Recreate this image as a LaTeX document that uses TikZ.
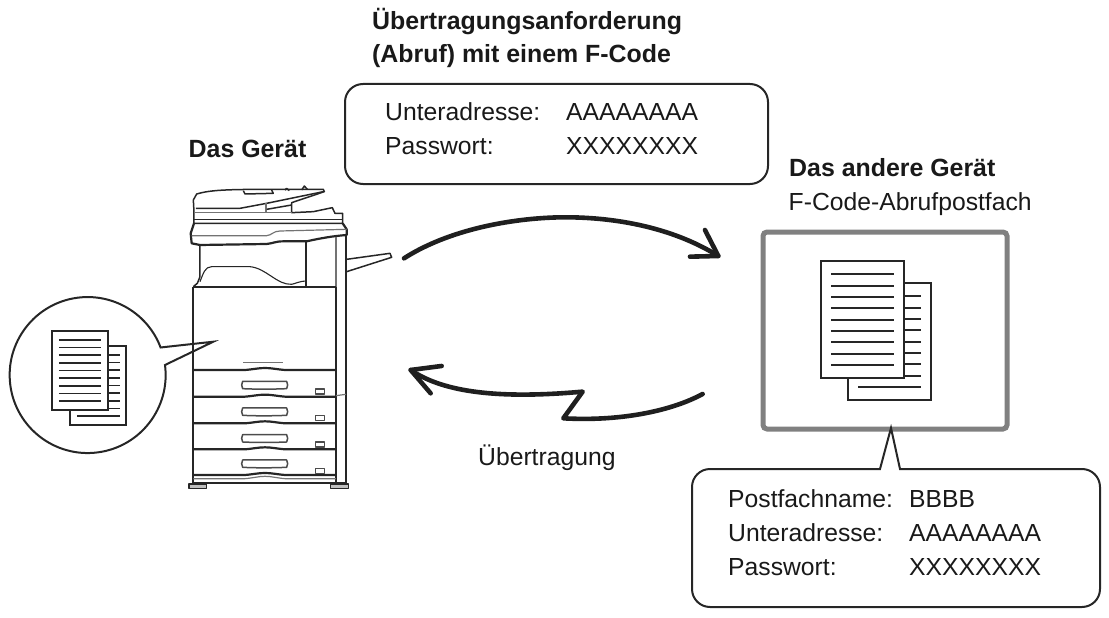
\documentclass[tikz,border=0pt]{standalone}
\usepackage{fontspec}
\setmainfont{Liberation Sans}
\newcommand{\docpair}[1]{%
 \begin{scope}[shift={#1}]
  \draw[dk] (27,-22) rectangle (110,-139);
  \fill[white] (0,0) rectangle (83,-117);
  \foreach \i in {0,...,7} \draw[ln] (84,{-35.3-\i*11.33}) -- (100,{-35.3-\i*11.33});
  \draw[ln] (37,-126) -- (100,-126);
  \draw[dk] (0,0) rectangle (83,-117);
  \foreach \i in {0,...,8} \draw[ln] (10,{-13.3-\i*11.33}) -- (73,{-13.3-\i*11.33});
 \end{scope}}
\tikzset{
 dk/.style={draw=black!85,line width=2.2pt},
 ln/.style={draw=black!85,line width=2pt},
 callout/.style={draw=black!85,line width=2pt,rounded corners=18pt,fill=white},
 mach/.style={draw=black!85,line width=1.5pt,line join=round},
 machk/.style={draw=black!85,line width=2.2pt,line join=round},
 thin gr/.style={draw=black!55,line width=1.2pt},
 flow/.style={draw=black!88,line width=4.6pt,line cap=round,line join=round},
 txt/.style={anchor=base west,inner sep=0pt,font=\fontsize{24.7}{28}\selectfont,text=black!90},
 btxt/.style={txt,font=\fontsize{24.9}{28}\selectfont\bfseries},
}
\begin{document}
\begin{tikzpicture}[x=1pt,y=1pt]
\useasboundingbox (0,0) rectangle (1109,-618);
% machine upper part
\begin{scope}[shift={(170pt,-170pt)},x=0.3333pt,y=-0.3333pt]
 \draw[mach] (72,125) -- (70,90) -- (80,72) .. controls (120,60) and (170,58) .. (305,58) -- (460,58) -- (463,65) -- (365,98) -- (365,128) -- (430,125) -- (487,113) -- (495,130) -- (518,130) -- (518,160) -- (72,160) -- cycle;
 \draw[mach] (220,62) -- (225,72) -- (310,70) -- (305,60);
 \draw[mach] (345,60) -- (350,55) -- (358,62);
 \draw[mach] (395,60) -- (403,48) -- (412,58);
 \draw[mach] (78,115) -- (210,115) -- (290,100) -- (460,65);
 \draw[thin gr] (288,100) -- (288,128);
 \draw[mach] (290,118) -- (365,105);
 \draw[thin gr] (72,128) -- (365,128);
 \draw[mach] (72,148) -- (518,148);
 \draw[machk] (72,160) -- (62,190) -- (65,220) -- (90,225) -- (290,222) .. controls (310,220) and (315,214) .. (340,214) -- (410,214) .. controls (450,205) and (490,198) .. (530,195) -- (530,178) -- (518,160);
 \draw[thin gr] (65,197) -- (290,197) .. controls (305,196) and (310,183) .. (330,183) -- (530,178);
 \draw[mach] (90,225) -- (90,320) -- (82,340) -- (70,350);
 \draw[mach,line width=1.1pt] (90,335) .. controls (100,310) and (105,290) .. (125,290) -- (240,290) .. controls (290,295) and (320,345) .. (365,343) .. controls (380,340) and (385,334) .. (410,333);
 \draw[machk] (409,214) -- (409,350);
 \draw[thin gr] (498,200) -- (498,350);
 \draw[machk] (529,195) -- (529,350);
 \draw[mach] (530,268) -- (660,250) -- (665,262) -- (530,305);
\end{scope}
% machine lower part
\begin{scope}[shift={(170pt,-330pt)},x=0.3333pt,y=-0.3333pt]
 \draw[machk] (70,-130) -- (498,-130);
 \draw[machk] (70,-130) -- (70,458) -- (498,458) -- (498,-130);
 \draw[machk] (528,-135) -- (528,458) -- (498,458);
 \draw[thin gr] (220,98) -- (340,98);
 \foreach \yy in {120,200,280,358,435}
  \draw[machk] (70,\yy) -- (225,\yy) .. controls (250,\yy-2) and (265,\yy-6) .. (285,\yy-6) .. controls (305,\yy-6) and (320,\yy-2) .. (345,\yy) -- (498,\yy);
 \foreach \yy in {165,245,325,401} {
  \draw[mach,draw=black!70] (218,\yy-11) -- (350,\yy-11) -- (353,\yy) -- (350,\yy+11) .. controls (300,\yy+13) and (260,\yy+13) .. (218,\yy+11) -- (215,\yy) -- cycle;
 }
 \foreach \yy in {185,264,344,423} \draw[mach,draw=black!70,line width=1.1pt] (437,\yy-8) rectangle (463,\yy+7);
 \draw[thin gr] (70,446) -- (225,446) .. controls (250,444) and (265,439) .. (285,439) .. controls (305,439) and (320,444) .. (345,446) -- (498,446);
 \draw[thin gr] (498,197) -- (528,193);
 \draw[mach,fill=black!25] (57,462) rectangle (110,475);
 \draw[mach,fill=black!25] (482,462) rectangle (535,475);
\end{scope}
% magnifier circle with its pointer
\draw[draw=black!85,line width=2pt,line join=miter] (165,-365) arc[start angle=7.4,end angle=-339.3,radius=78] -- (213.3,-341.7) -- cycle;
\begin{scope}[shift={(52,-331)},scale=0.675,ln/.append style={line width=1.6pt}]
 \docpair{(0,0)}
\end{scope}
% box on the right
\draw[draw=black!50,line width=5pt,rounded corners=4pt] (763,-232) rectangle (1007,-429);
\docpair{(821,-261)}
% callouts
\draw[callout] (345,-84) rectangle (768,-184);
\draw[draw=black!85,line width=2pt,line join=miter]
  (900,-469) -- (891,-428) -- (880,-469) -- (710,-469) arc[start angle=90,end angle=180,radius=18] -- (692,-589)
  arc[start angle=180,end angle=270,radius=18] -- (1082,-607)
  arc[start angle=270,end angle=360,radius=18] -- (1100,-487)
  arc[start angle=0,end angle=90,radius=18] -- cycle;
% flow arrows
\begin{scope}[shift={(390pt,-200pt)},x=0.3333pt,y=-0.3333pt]
 \coordinate (reqstart) at (42,175);
 \coordinate (reqend) at (985,168);
 \coordinate (txstart) at (938,582);
 \coordinate (txkinkb) at (520,655);
 \coordinate (txkinka) at (578,575);
 \coordinate (txend) at (62,510);
 \draw[flow] (reqstart) .. controls (190,80) and (400,50) .. (540,52) .. controls (700,54) and (860,90) .. (reqend);
 \draw[flow] (945,90) -- (reqend) -- (900,170);
 \draw[flow] (txstart) .. controls (850,630) and (700,665) .. (txkinkb) -- (txkinka) .. controls (300,600) and (150,570) .. (txend);
 \draw[flow] (155,498) -- (txend) -- (122,580);
\end{scope}
% texts
\node[btxt] (t1) at (372,-29.5) {Übertragungsanforderung};
\node[btxt] (t2) at (372,-63) {(Abruf) mit einem F-Code};
\node[btxt] (t3) at (188.5,-157.5) {Das Gerät};
\node[btxt] (t4) at (789,-176.5) {Das andere Gerät};
\node[txt] (t5) at (788.5,-210.5) {F-Code-Abrufpostfach};
\node[txt] (a1) at (385,-120.5) {Unteradresse:};
\node[txt] (a2) at (566,-120.5) {AAAAAAAA};
\node[txt] (a3) at (385,-154.5) {Passwort:};
\node[txt] (a4) at (566,-154.5) {XXXXXXXX};
\node[txt] (u) at (478,-465) {Übertragung};
\node[txt] (b1) at (728,-507.5) {Postfachname:};
\node[txt] (b2) at (909,-507.5) {BBBB};
\node[txt] (b3) at (728,-541) {Unteradresse:};
\node[txt] (b4) at (909,-541) {AAAAAAAA};
\node[txt] (b5) at (728,-575) {Passwort:};
\node[txt] (b6) at (909,-575) {XXXXXXXX};
\end{tikzpicture}
\end{document}
